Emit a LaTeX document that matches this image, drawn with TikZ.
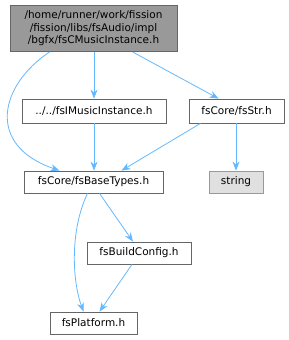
\documentclass[tikz,border=0pt]{standalone}
\usepackage{fontspec}
\setmainfont{DejaVu Sans}
\usetikzlibrary{arrows.meta, positioning, calc}
\definecolor{edgeblue}{RGB}{99, 184, 255}
\definecolor{boxgrey}{RGB}{102, 102, 102}
\definecolor{lightgrey}{RGB}{153, 153, 153}
\tikzset{
  filebox/.style={draw=boxgrey, fill=white, line width=0.8pt, inner sep=0pt, font=\fontsize{10.5}{12.6}\selectfont, minimum height=22pt},
  mainbox/.style={filebox, fill=lightgrey, align=center, minimum width=167pt, minimum height=46pt},
  extbox/.style={filebox, draw=lightgrey, fill=black!12},
  incl/.style={draw=edgeblue, line width=0.8pt, -{Stealth[length=9pt, width=7pt]}}
}
\begin{document}
\begin{tikzpicture}[x=1pt, y=1pt]
  \useasboundingbox (0,0) rectangle (289,-340);
  % nodes
  \node[mainbox] (main) at (93.5,-28.5) {/home/runner/work/fission\\/fission/libs/fsAudio/impl\\/bgfx/fsCMusicInstance.h};
  \node[filebox, minimum width=144pt, minimum height=24pt] (imusic) at (94,-111) {../../fsIMusicInstance.h};
  \node[filebox, minimum width=95pt, minimum height=24pt] (fsstr) at (236.5,-111) {fsCore/fsStr.h};
  \node[filebox, minimum width=139pt] (basetypes) at (93.5,-182) {fsCore/fsBaseTypes.h};
  \node[extbox, minimum width=54pt] (string) at (236,-182) {string};
  \node[filebox, minimum width=104pt] (buildcfg) at (139,-253) {fsBuildConfig.h};
  \node[filebox, minimum width=87pt] (platform) at (93.5,-323) {fsPlatform.h};
  % edges
  \draw[incl] ([xshift=40pt]main.south west) .. controls (0,-85) and (-15,-145) .. ([xshift=-34pt]basetypes.north);
  \draw[incl] (main.south -| imusic.north) -- (imusic.north);
  \draw[incl] ([xshift=39pt]main.south) -- ([xshift=-18pt]fsstr.north);
  \draw[incl] (imusic.south) -- (imusic.south |- basetypes.north);
  \draw[incl] ([xshift=-36pt]fsstr.south) -- ([xshift=28pt]basetypes.north);
  \draw[incl] (fsstr.south -| string.north) -- (string.north);
  \draw[incl] ([xshift=6pt]basetypes.south) -- ([xshift=-6pt]buildcfg.north);
  \draw[incl] ([xshift=-6pt]basetypes.south) .. controls (70,-230) and (72,-280) .. ([xshift=-10pt]platform.north);
  \draw[incl] ([xshift=-7pt]buildcfg.south) -- ([xshift=6pt]platform.north);
\end{tikzpicture}
\end{document}
